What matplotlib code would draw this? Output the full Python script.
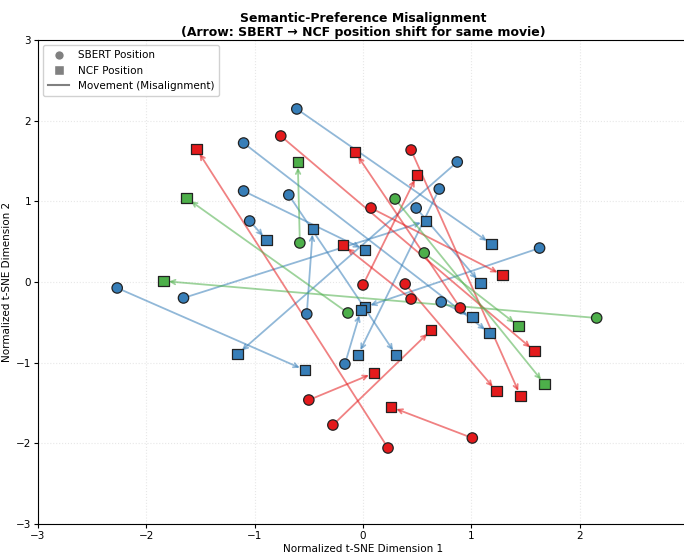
import matplotlib
matplotlib.use("Agg")
import matplotlib.pyplot as plt
from matplotlib.lines import Line2D

# Cluster colours
cluster_colors = {"red": "#e41a1c", "blue": "#377eb8", "green": "#4daf4a"}

# SBERT positions (circles)
sbert_x = [-0.611, -1.102, -1.102, -0.685, -1.046, 0.870, 0.704, 0.491, 1.630, -2.269, -1.657, -0.519, -0.167, 0.722,
           -0.759, 0.444, 0.074, 0.000, 0.389, 0.444, 0.898, -0.500, -0.278, 1.009, 0.231,
           -0.583, 0.296, 0.565, -0.139, 2.157]
sbert_y = [2.145, 1.723, 1.128, 1.079, 0.756, 1.488, 1.153, 0.917, 0.421, -0.074, -0.198, -0.397, -1.017, -0.248,
           1.810, 1.636, 0.917, -0.037, -0.025, -0.211, -0.322, -1.463, -1.773, -1.934, -2.058,
           0.484, 1.029, 0.360, -0.384, -0.446]
# NCF positions (squares)
ncf_x = [1.185, 1.167, 0.019, 0.306, -0.889, -1.157, -0.046, 1.083, 0.019, -0.537, 0.583, -0.463, -0.019, 1.009,
         1.583, 1.454, 1.287, 0.500, 1.231, -0.185, -0.074, 0.102, 0.630, 0.259, -1.537,
         -0.602, 1.676, 1.435, -1.630, -1.843]
ncf_y = [0.471, -0.632, 0.397, -0.905, 0.521, -0.893, -0.905, -0.012, -0.310, -1.091, 0.756, 0.657, -0.347, -0.434,
         -0.855, -1.413, 0.087, 1.326, -1.351, 0.459, 1.612, -1.128, -0.595, -1.550, 1.649,
         1.488, -1.264, -0.545, 1.041, 0.012]
clusters = ["blue"] * 14 + ["red"] * 11 + ["green"] * 5

xticks = [-3, -2, -1, 0, 1, 2]
yticks = [-3, -2, -1, 0, 1, 2, 3]

fig = plt.figure(figsize=(6.84, 5.56), dpi=100)
ax = fig.add_axes([38 / 684, 32 / 556, 650 / 684, 484 / 556])

for sx, sy, nx, ny, c in zip(sbert_x, sbert_y, ncf_x, ncf_y, clusters):
    col = cluster_colors[c]
    ax.annotate("", xy=(nx, ny), xytext=(sx, sy),
                arrowprops=dict(arrowstyle="->", color=col, alpha=0.55, lw=1.3,
                                shrinkA=3, shrinkB=4, mutation_scale=8),
                zorder=2)

cols = [cluster_colors[c] for c in clusters]
ax.scatter(sbert_x, sbert_y, c=cols, marker="o", s=56, edgecolors="#222222",
           linewidths=0.9, zorder=4)
ax.scatter(ncf_x, ncf_y, c=cols, marker="s", s=56, edgecolors="#222222",
           linewidths=0.9, zorder=4)

ax.set_xlim(-3, 3)
ax.set_ylim(-3, 3)
ax.set_xticks(xticks)
ax.set_yticks(yticks)
ax.tick_params(labelsize=7.5, length=3, pad=2)
ax.grid(True, linestyle=":", alpha=0.35, color="#bbbbbb")
ax.set_axisbelow(True)

ax.set_xlabel("Normalized t-SNE Dimension 1", fontsize=7.5, labelpad=2)
ax.set_ylabel("Normalized t-SNE Dimension 2", fontsize=7.5, labelpad=3)
ax.set_title("Semantic-Preference Misalignment\n(Arrow: SBERT \u2192 NCF position shift for same movie)",
             fontsize=9, fontweight="bold", pad=3, x=(363 - 38) / 650, linespacing=1.1)

handles = [
    Line2D([0], [0], marker="o", color="w", markerfacecolor="gray", markersize=7, label="SBERT Position"),
    Line2D([0], [0], marker="s", color="w", markerfacecolor="gray", markersize=7, label="NCF Position"),
    Line2D([0], [0], color="gray", lw=1.5, label="Movement (Misalignment)"),
]
ax.legend(handles=handles, loc="upper left", fontsize=7.5, framealpha=0.9, borderpad=0.5)

fig.savefig("out.png", dpi=100)
